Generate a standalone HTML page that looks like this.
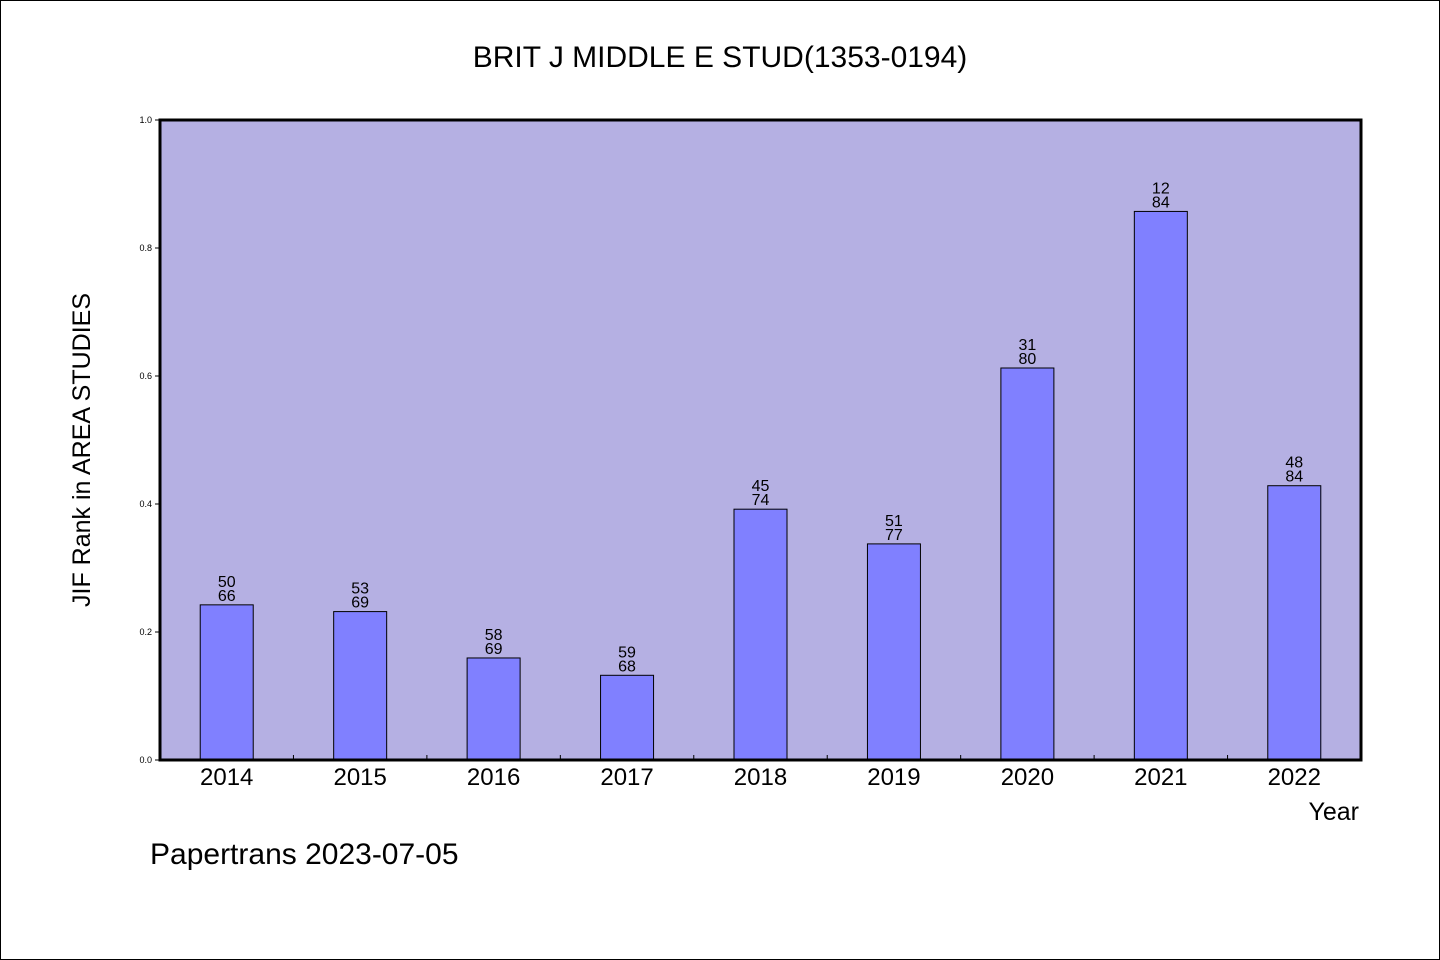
<!DOCTYPE html>
<html><head><meta charset="utf-8">
<style>
html,body{margin:0;padding:0;background:#fff;}
svg{display:block;font-family:"WenQuanYi Zen Hei","Liberation Sans",sans-serif;}
</style></head>
<body>
<svg id="chart" width="1440" height="960" viewBox="0 0 1440 960">
<rect x="0.5" y="0.5" width="1439" height="959" fill="#fff" stroke="#000"/>
<text x="720" y="67" text-anchor="middle" font-size="30">BRIT J MIDDLE E STUD(1353-0194)</text>
<rect x="160" y="120" width="1201" height="640" fill="#b5b0e3"/>
<g id="bars"></g>
<rect x="160" y="120" width="1201" height="640" fill="none" stroke="#000" stroke-width="3"/>
<text transform="translate(90,450) rotate(-90)" text-anchor="middle" font-size="25">JIF Rank in AREA STUDIES</text>
<text x="1359" y="820" text-anchor="end" font-size="25">Year</text>
<text x="150" y="864" font-size="30">Papertrans 2023-07-05</text>
</svg>
<script>
const years = ["2014","2015","2016","2017","2018","2019","2020","2021","2022"];
const ranks = [50,53,58,59,45,51,31,12,48];
const totals = [66,69,69,68,74,77,80,84,84];
const yTicks = ["0.0","0.2","0.4","0.6","0.8","1.0"];

const NS="http://www.w3.org/2000/svg";
const g=document.getElementById("bars");
const x0=160,x1=1361,yTop=120,yBot=760;
const band=(x1-x0)/years.length;
const xC=i=>x0+band*(i+0.5);
const yS=v=>yBot-(yBot-yTop)*v;
function mk(tag,attrs){const e=document.createElementNS(NS,tag);for(const k in attrs)e.setAttribute(k,attrs[k]);g.appendChild(e);return e;}

yTicks.forEach(t=>{
  const v=parseFloat(t),y=yS(v);
  const l=mk("line",{x1:155,x2:160,y1:y,y2:y,stroke:"#000"});
  
  
  const tx=mk("text",{x:152,y:y+3,"text-anchor":"end","font-size":9});
  tx.textContent=t;
  
  
});
for(let i=1;i<years.length;i++){
  const x=x0+band*i;
  const l=mk("line",{x1:x,x2:x,y1:755,y2:760,stroke:"#000"});
  
  
}
years.forEach((yr,i)=>{
  const v=1-ranks[i]/totals[i];
  const bw=53,cx=xC(i),y=yS(v);
  const r=mk("rect",{x:cx-bw/2,y:y,width:bw,height:yBot-y,fill:"#8080ff",stroke:"#000","stroke-width":1});
  
  
  const t1=mk("text",{x:cx,y:y-18,"text-anchor":"middle","font-size":16});
  t1.textContent=ranks[i];
  
  
  const t2=mk("text",{x:cx,y:y-4,"text-anchor":"middle","font-size":16});
  t2.textContent=totals[i];
  
  
  const xl=mk("text",{x:cx,y:785,"text-anchor":"middle","font-size":24});
  xl.textContent=yr;
  
  
});
</script>
</body></html>
